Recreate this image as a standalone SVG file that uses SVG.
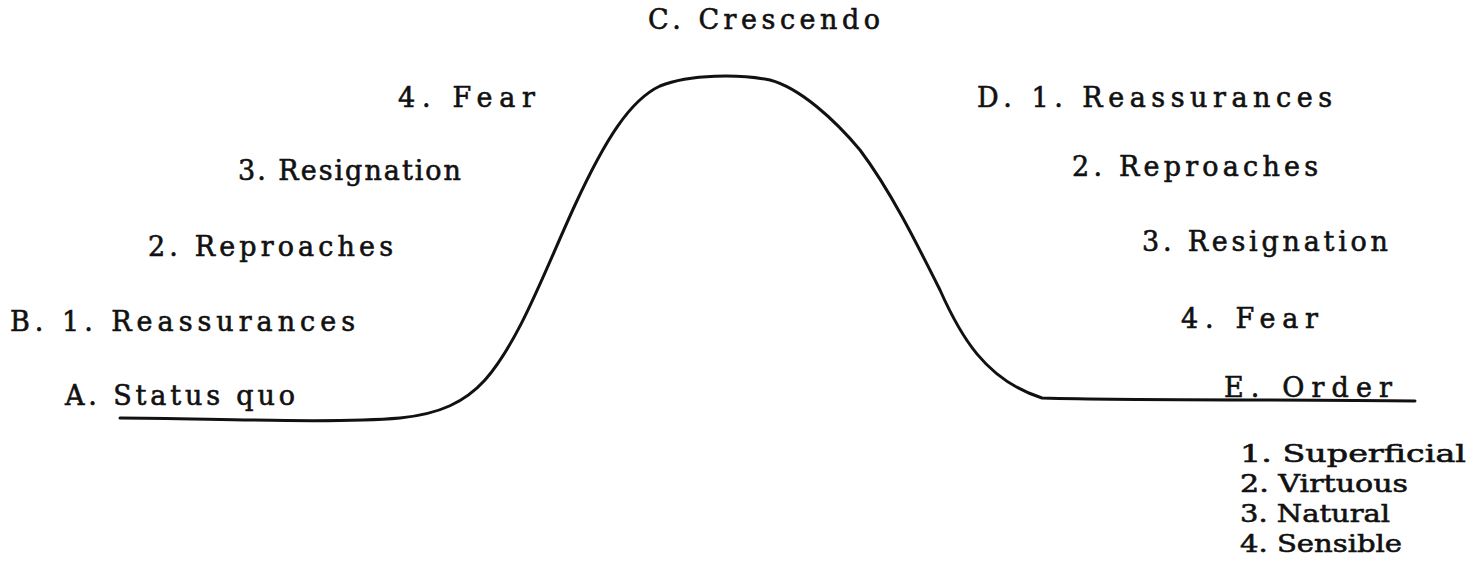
<svg xmlns="http://www.w3.org/2000/svg" width="1473" height="583" viewBox="0 0 1473 583">
<style>
text{font-family:"DejaVu Serif","Liberation Serif",serif;font-size:27px;fill:#111;stroke:#111;stroke-width:0.6}
.l{font-size:25px}
.c{fill:none;stroke:#111;stroke-width:3;stroke-linecap:round;stroke-linejoin:round}
</style>
<rect width="1473" height="583" fill="#fff"/>
<g id="connectors">
<path class="c" d="M120,418 C200,418 330,424 400,418 C440,414 465,402 485,380 C520,340 545,270 575,205 C605,140 630,100 660,86 C690,74 740,74 770,80 C800,88 835,120 860,150 C890,190 915,240 940,290 C960,335 985,380 1042,398 C1150,401 1300,399 1415,401"/>
</g>
<g id="crescendo"><text x="648" y="29" textLength="232" lengthAdjust="spacing">C. Crescendo</text></g>
<g id="left-fear"><text x="398" y="107" textLength="137" lengthAdjust="spacing">4. Fear</text></g>
<g id="left-resignation"><text x="238" y="180" textLength="223" lengthAdjust="spacing">3. Resignation</text></g>
<g id="left-reproaches"><text x="148" y="256" textLength="245" lengthAdjust="spacing">2. Reproaches</text></g>
<g id="left-reassurances"><text x="10" y="331" textLength="345" lengthAdjust="spacing">B. 1. Reassurances</text></g>
<g id="status-quo"><text x="65" y="405" textLength="230" lengthAdjust="spacing">A. Status quo</text></g>
<g id="right-reassurances"><text x="977" y="107" textLength="355" lengthAdjust="spacing">D. 1. Reassurances</text></g>
<g id="right-reproaches"><text x="1072" y="176" textLength="246" lengthAdjust="spacing">2. Reproaches</text></g>
<g id="right-resignation"><text x="1142" y="251" textLength="246" lengthAdjust="spacing">3. Resignation</text></g>
<g id="right-fear"><text x="1181" y="328" textLength="137" lengthAdjust="spacing">4. Fear</text></g>
<g id="order"><text x="1224" y="397" textLength="168" lengthAdjust="spacing">E. Order</text></g>
<g id="order-list">
<text class="l" x="1240" y="462" textLength="226" lengthAdjust="spacingAndGlyphs">1. Superficial</text>
<text class="l" x="1240" y="492" textLength="168" lengthAdjust="spacingAndGlyphs">2. Virtuous</text>
<text class="l" x="1240" y="522" textLength="150" lengthAdjust="spacingAndGlyphs">3. Natural</text>
<text class="l" x="1240" y="552" textLength="162" lengthAdjust="spacingAndGlyphs">4. Sensible</text>
</g>
</svg>
